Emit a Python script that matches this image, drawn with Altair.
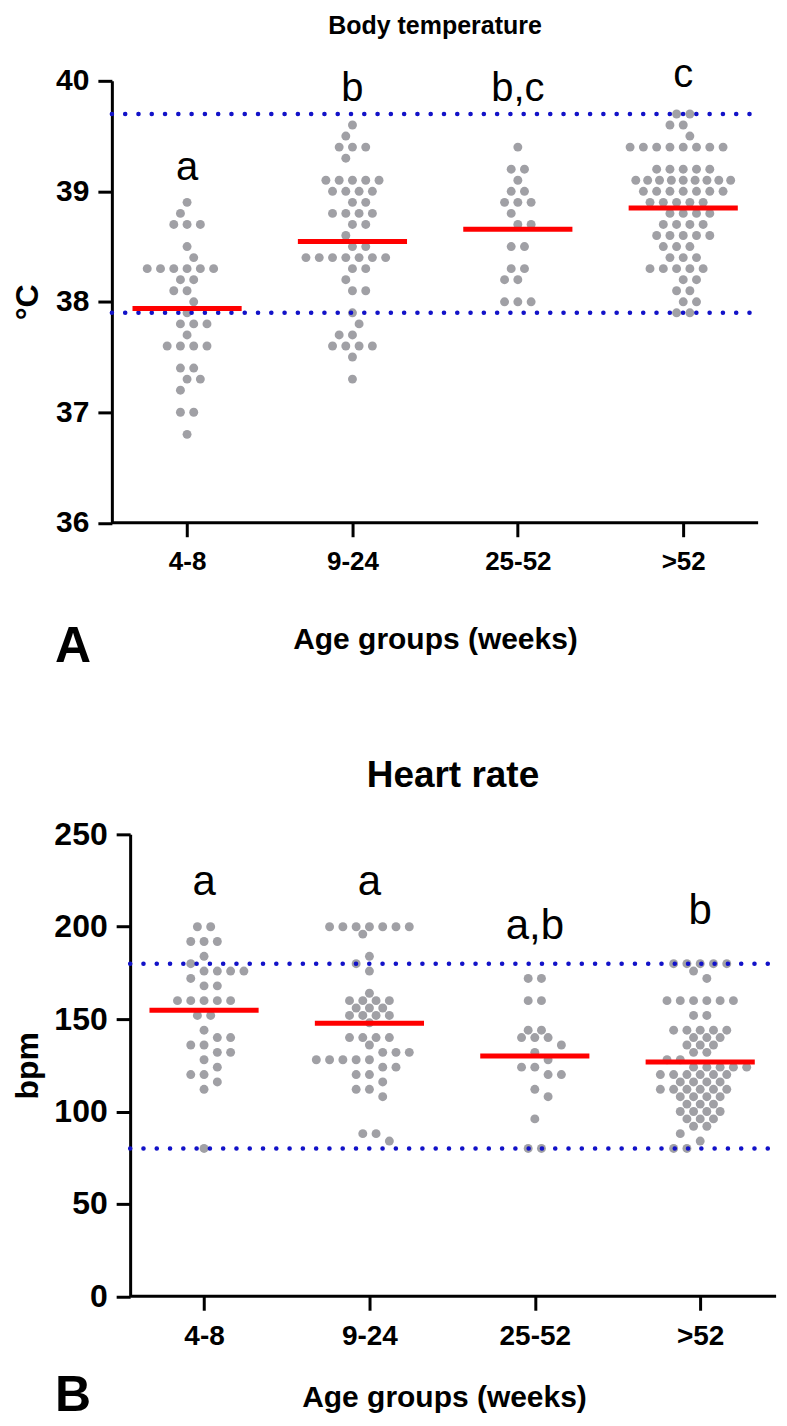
import json
from collections import Counter
import altair as alt
import pandas as pd

# ---------------- data ----------------
groups = ["4-8", "9-24", "25-52", ">52"]

# Panel A: body temperature (°C), one value per animal
temp_4_8 = [38.9, 38.8, 38.7, 38.7, 38.7, 38.5, 38.4, 38.3, 38.3, 38.3, 38.3, 38.3, 38.3,
            38.2, 38.2, 38.1, 38.1, 38.0, 37.9, 37.8, 37.8, 37.8, 37.7, 37.6, 37.6, 37.6,
            37.6, 37.4, 37.4, 37.3, 37.3, 37.2, 37.0, 37.0, 36.8]
temp_9_24 = [39.6, 39.5, 39.4, 39.4, 39.4, 39.3, 39.1, 39.1, 39.1, 39.1, 39.1, 39.0, 39.0,
             39.0, 39.0, 38.9, 38.9, 38.8, 38.8, 38.8, 38.8, 38.7, 38.7, 38.6, 38.5, 38.5,
             38.4, 38.4, 38.4, 38.4, 38.4, 38.4, 38.4, 38.3, 38.3, 38.2, 38.1, 38.1, 37.9,
             37.8, 37.7, 37.7, 37.6, 37.6, 37.6, 37.6, 37.5, 37.3]
temp_25_52 = [39.4, 39.2, 39.2, 39.1, 39.0, 39.0, 38.9, 38.9, 38.9, 38.8, 38.7, 38.7, 38.5,
              38.5, 38.3, 38.3, 38.2, 38.2, 38.0, 38.0, 38.0]
temp_gt52 = [39.7, 39.7, 39.6, 39.6, 39.5, 39.4, 39.4, 39.4, 39.4, 39.4, 39.4, 39.4, 39.4,
             39.2, 39.2, 39.2, 39.2, 39.2, 39.1, 39.1, 39.1, 39.1, 39.1, 39.1, 39.1, 39.1,
             39.1, 39.0, 39.0, 39.0, 39.0, 39.0, 39.0, 39.0, 38.9, 38.9, 38.9, 38.9, 38.9,
             38.8, 38.8, 38.8, 38.8, 38.7, 38.7, 38.7, 38.7, 38.6, 38.6, 38.6, 38.6, 38.6,
             38.5, 38.5, 38.5, 38.4, 38.4, 38.4, 38.3, 38.3, 38.3, 38.3, 38.3, 38.2, 38.2,
             38.1, 38.1, 38.0, 38.0, 37.9, 37.9]
temp_ref = [37.9, 39.7]
temp_letters = ["a", "b", "b,c", "c"]
temp_letter_y = [39.10, 39.82, 39.82, 39.94]

# Panel B: heart rate (bpm)
hr_4_8 = [200, 200, 192, 192, 192, 184, 180, 176, 176, 176, 176, 172, 168, 168, 160, 160,
          160, 160, 160, 152, 152, 144, 140, 140, 136, 136, 132, 132, 128, 124, 120, 120,
          116, 112, 80]
hr_9_24 = [200, 200, 200, 200, 200, 200, 200, 196, 184, 180, 176, 164, 160, 160, 160, 160,
           156, 156, 156, 152, 152, 152, 152, 148, 140, 140, 140, 140, 136, 132, 132, 132,
           128, 128, 128, 128, 128, 124, 124, 120, 120, 116, 112, 112, 108, 88, 88, 84]
hr_25_52 = [172, 172, 160, 160, 144, 144, 140, 140, 140, 136, 132, 128, 124, 124, 120, 120,
            112, 108, 96, 80, 80]
hr_gt52 = [180, 180, 180, 180, 180, 176, 172, 160, 160, 160, 160, 160, 160, 152, 152, 144,
           144, 144, 144, 144, 140, 140, 140, 136, 136, 136, 132, 132, 128, 128, 124, 124,
           124, 124, 124, 120, 120, 120, 120, 120, 120, 116, 116, 116, 116, 112, 112, 112,
           112, 112, 112, 108, 108, 108, 108, 104, 104, 104, 100, 100, 100, 100, 96, 96, 96,
           92, 92, 88, 84, 80, 80]
hr_ref = [80, 180]
hr_letters = ["a", "a", "a,b", "b"]
hr_letter_y = [217, 217, 193.5, 201.5]

# ---------------- layout helpers ----------------
FONT = "Liberation Sans"
UNIT_PX = 165.6          # pixels between neighbouring age groups
MEAN_HALF = 0.33
DOT_GAP = 13.3           # horizontal distance between neighbouring dots (px)
DOT_CLEAR = 12.5         # wished centre distance between dots of neighbouring rows (px)
MAX_SPAN = 95.0


def swarm(values, px_per_val):
    """Column-scatter layout: rows of equal values, shifted a little to avoid neighbours."""
    rows = sorted(Counter(values).items(), key=lambda kv: -kv[0])
    placed = []
    result = {}
    for ri, (v, n) in enumerate(rows):
        y = v * px_per_val
        sp = DOT_GAP if (n - 1) * DOT_GAP <= MAX_SPAN else MAX_SPAN / (n - 1)
        base = [(j - (n - 1) / 2) * sp for j in range(n)]
        signs = [1, -1] if ri % 2 == 0 else [-1, 1]
        best, best_d = None, -1.0
        for k in range(0, 5):
            for sg in ([1] if k == 0 else signs):
                s = sg * k * DOT_GAP / 2
                xs = [b + s for b in base]
                dmin = 1e9
                for py, pxs in placed:
                    dy = abs(py - y)
                    if dy >= DOT_CLEAR:
                        continue
                    for a in xs:
                        for b in pxs:
                            dmin = min(dmin, ((a - b) ** 2 + dy ** 2) ** 0.5)
                if dmin >= DOT_CLEAR - 1e-6:
                    best, best_d = xs, dmin
                    break
                if dmin > best_d + 0.5:
                    best, best_d = xs, dmin
            if best_d >= DOT_CLEAR - 1e-6:
                break
        placed.append((y, best))
        result[v] = list(best)
    return [result[v].pop(0) / UNIT_PX for v in values]


def panel(series, ymin, ymax, yticks, refs, letters, letter_y, height, x_left_px,
          x_right_px, axis_shift, title, title_size, title_offset, title_dx, ytitle,
          ytitle_size, ytitle_pad, ylab_size, xlab_size, letter_size, panel_letter,
          panel_letter_dx, panel_letter_dy, xtitle_pad):
    ppv = height / (ymax - ymin)
    recs = []
    for gi, vals in enumerate(series):
        offs = swarm(vals, ppv)
        for v, o in zip(vals, offs):
            recs.append({"gi": gi, "value": v, "x": gi + o})
    df = pd.DataFrame(recs)

    x_dom = [-x_left_px / UNIT_PX, 3 + x_right_px / UNIT_PX]
    width = (x_dom[1] - x_dom[0]) * UNIT_PX
    x_axis_start = x_dom[0] + axis_shift / UNIT_PX

    xs = alt.Scale(domain=x_dom, nice=False, zero=False)
    ys = alt.Scale(domain=[ymin, ymax], nice=False, zero=False)
    label_expr = json.dumps(groups) + "[datum.value]"

    pts = alt.Chart(df).mark_circle(size=80, color="#a0a0a5", opacity=1).encode(
        x=alt.X("x:Q", scale=xs, axis=alt.Axis(
            values=[0, 1, 2, 3], labelExpr=label_expr, title="Age groups (weeks)",
            labelFontSize=xlab_size, labelPadding=12, titleFontSize=30,
            titlePadding=xtitle_pad, labelFlush=False, domain=False)),
        y=alt.Y("value:Q", scale=ys, axis=alt.Axis(
            values=yticks, format="d", title=ytitle, titleFontSize=ytitle_size,
            titlePadding=ytitle_pad, labelFontSize=ylab_size, labelPadding=9,
            offset=-axis_shift)),
    )

    base_df = pd.DataFrame({"y": [ymin], "x0": [x_axis_start], "x1": [x_dom[1]]})
    baseline = alt.Chart(base_df).mark_rule(color="black", strokeWidth=3).encode(
        x=alt.X("x0:Q", scale=xs), x2="x1:Q", y=alt.Y("y:Q", scale=ys))

    ref_df = pd.DataFrame({"ref": refs})
    ref_df["x0"] = x_axis_start
    ref_df["x1"] = x_dom[1]
    ref_layer = alt.Chart(ref_df).mark_rule(
        color="#1212c8", strokeWidth=4.5, strokeDash=[0.1, 13.2], strokeCap="round"
    ).encode(x=alt.X("x0:Q", scale=xs), x2="x1:Q", y=alt.Y("ref:Q", scale=ys))

    means = alt.Chart(df).transform_aggregate(
        mean="mean(value)", groupby=["gi"]
    ).transform_calculate(
        x1=f"datum.gi - {MEAN_HALF}", x2=f"datum.gi + {MEAN_HALF}"
    ).mark_rule(color="#ff0000", strokeWidth=5).encode(
        x=alt.X("x1:Q", scale=xs), x2="x2:Q",
        y=alt.Y("mean:Q", scale=ys))

    let_df = pd.DataFrame({"gi": [0, 1, 2, 3], "lab": letters, "ly": letter_y})
    lets = alt.Chart(let_df).mark_text(
        font=FONT, fontSize=letter_size, baseline="alphabetic", color="black"
    ).encode(x=alt.X("gi:Q", scale=xs), y=alt.Y("ly:Q", scale=ys), text="lab:N")

    plab = alt.Chart(pd.DataFrame({"t": [panel_letter]})).mark_text(
        font=FONT, fontSize=50, fontWeight="bold", color="black", baseline="middle"
    ).encode(x=alt.value(panel_letter_dx), y=alt.value(height + panel_letter_dy), text="t:N")

    return alt.layer(pts, ref_layer, baseline, means, lets, plab).properties(
        width=width, height=height,
        title=alt.TitleParams(title, font=FONT, fontSize=title_size, fontWeight="bold",
                              color="black", anchor="middle", offset=title_offset,
                              dx=title_dx))


pa = panel([temp_4_8, temp_9_24, temp_25_52, temp_gt52], 36, 40, [36, 37, 38, 39, 40],
           temp_ref, temp_letters, temp_letter_y, 442.5, 75.3, 75.0, 0.0,
           "Body temperature", 25, 17, 0, "°C", 32, 11, 30, 26, 40, "A", -39, 124, 50)
pb = panel([hr_4_8, hr_9_24, hr_25_52, hr_gt52], 0, 250, [0, 50, 100, 150, 200, 250],
           hr_ref, hr_letters, hr_letter_y, 462.5, 92.3, 76.0, 18.3,
           "Heart rate", 37, 23.5, 9, "bpm", 32, 9.6, 32, 28, 42, "B", -39, 100, 32)

chart = alt.vconcat(pa, pb, spacing=84.5).properties(
    padding={"left": 3, "top": 4, "right": 0, "bottom": 0}
).configure_view(stroke=None).configure_axis(
    grid=False, domainColor="black", domainWidth=3, tickColor="black", tickWidth=3,
    tickSize=14, labelFont=FONT, labelFontWeight="bold", labelColor="black",
    titleFont=FONT, titleFontWeight="bold", titleColor="black"
)

chart.save("out.html", embed_options={"renderer": "svg", "actions": False})
